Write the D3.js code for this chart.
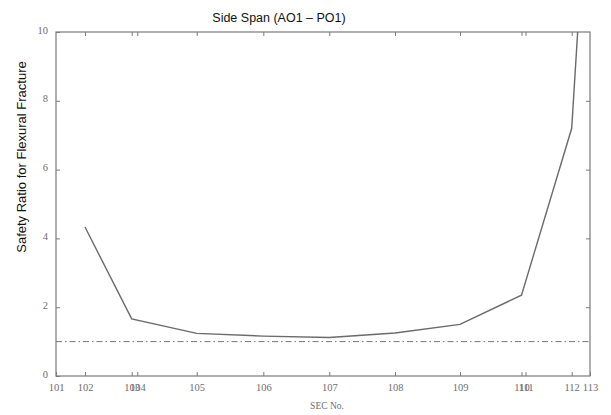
<!DOCTYPE html>
<html>
<head>
<meta charset="utf-8">
<script src="https://cdn.jsdelivr.net/npm/d3@7/dist/d3.min.js"></script>
<style>
  html, body { margin: 0; padding: 0; background: #fff; }
  svg { display: block; }
</style>
</head>
<body>
<svg id="chart" width="611" height="415"></svg>
<script>
// Section numbers along the side span and their chainage (m from section 101)
const sections = ["101", "102", "103", "104", "105", "106", "107", "108", "109", "110", "111", "112", "113"];
const chainage = [0, 2.9, 7.57, 8.13, 14.07, 20.73, 27.33, 33.9, 40.4, 46.55, 46.95, 51.57, 53.4];

// Safety ratio for flexural fracture at each section (null = not evaluated)
const safetyRatio = [null, 4.33, 1.66, null, 1.24, 1.16, 1.12, 1.25, 1.50, 2.35, null, 7.2, 15.8];

// Required ratio reference line
const requiredRatio = 1.0;

const yTicks = [0, 2, 4, 6, 8, 10];

const svg = d3.select("#chart");
const margin = { left: 56, right: 21, top: 32, bottom: 39 };
const W = 611, H = 415;
const x0 = margin.left, x1 = W - margin.right;
const y0 = H - margin.bottom, y1 = margin.top;

const x = d3.scaleLinear().domain([0, 53.4]).range([x0, x1]);
const y = d3.scaleLinear().domain([0, 10]).range([y0, y1]);

const axisColor = "#7a7a7a";
const tickText = "#6e6e6e";
const serif = "'Liberation Serif', 'DejaVu Serif', serif";

svg.append("defs").append("clipPath").attr("id", "plot-clip")
  .append("rect").attr("x", x0).attr("y", y1).attr("width", x1 - x0).attr("height", y0 - y1);

// Bottom axis: ticks pointing into the plot
const xBottom = d3.axisBottom(x).tickValues(chainage)
  .tickFormat((d, i) => sections[i]).tickSizeInner(-4).tickSizeOuter(0).tickPadding(8);
const gxb = svg.append("g").attr("transform", `translate(0,${y0})`).call(xBottom);
// Top axis: mirrored inward ticks, no labels
const xTop = d3.axisTop(x).tickValues(chainage.slice(1, -1))
  .tickFormat("").tickSizeInner(-4).tickSizeOuter(0);
const gxt = svg.append("g").attr("transform", `translate(0,${y1})`).call(xTop);

const yLeft = d3.axisLeft(y).tickValues(yTicks).tickFormat(d3.format("d"))
  .tickSizeInner(-4).tickSizeOuter(0).tickPadding(8);
const gyl = svg.append("g").attr("transform", `translate(${x0},0)`).call(yLeft);
const yRight = d3.axisRight(y).tickValues(yTicks.slice(1, -1)).tickFormat("")
  .tickSizeInner(-4).tickSizeOuter(0);
const gyr = svg.append("g").attr("transform", `translate(${x1},0)`).call(yRight);

[gxb, gxt, gyl, gyr].forEach(g => {
  g.select(".domain").attr("stroke", axisColor).attr("stroke-width", 1.2);
  g.selectAll(".tick line").attr("stroke", axisColor).attr("stroke-width", 1);
  g.selectAll(".tick text").attr("fill", tickText)
    .attr("font-family", serif).attr("font-size", 10.5);
});
gxb.select(".domain").remove();
gxt.select(".domain").remove();
gyl.select(".domain").remove();
gyr.select(".domain").remove();
gyl.selectAll(".tick text").attr("dy", "0.1em");

// Plot frame
svg.append("rect").attr("x", x0).attr("y", y1)
  .attr("width", x1 - x0).attr("height", y0 - y1)
  .attr("fill", "none").attr("stroke", axisColor).attr("stroke-width", 1.2);

// Required ratio (dash-dot)
svg.append("line")
  .attr("x1", x0).attr("x2", x1)
  .attr("y1", y(requiredRatio)).attr("y2", y(requiredRatio))
  .attr("stroke", "#777").attr("stroke-width", 1)
  .attr("stroke-dasharray", "6,3,1.5,3");

// Safety ratio curve
const pts = chainage.map((c, i) => ({ c, v: safetyRatio[i] })).filter(d => d.v !== null);
const line = d3.line().x(d => x(d.c)).y(d => y(d.v));
svg.append("path").datum(pts)
  .attr("clip-path", "url(#plot-clip)")
  .attr("d", line)
  .attr("fill", "none").attr("stroke", "#6a6a6a").attr("stroke-width", 1.4);

// Titles
svg.append("text").attr("x", 279).attr("y", 22)
  .attr("text-anchor", "middle")
  .attr("font-family", "'Liberation Sans', Arial, sans-serif")
  .attr("font-size", 12.5).attr("fill", "#111")
  .text("Side Span (AO1 \u2013 PO1)");

svg.append("text")
  .attr("transform", `translate(21,${157}) rotate(-90)`)
  .attr("text-anchor", "middle").attr("dy", "0.35em")
  .attr("font-family", "'Liberation Sans', Arial, sans-serif")
  .attr("font-size", 13).attr("fill", "#111")
  .text("Safety Ratio for Flexural Fracture");

svg.append("text").attr("x", 327).attr("y", 409)
  .attr("text-anchor", "middle")
  .attr("font-family", serif).attr("font-size", 9.5).attr("fill", tickText)
  .text("SEC No.");
</script>
</body>
</html>
